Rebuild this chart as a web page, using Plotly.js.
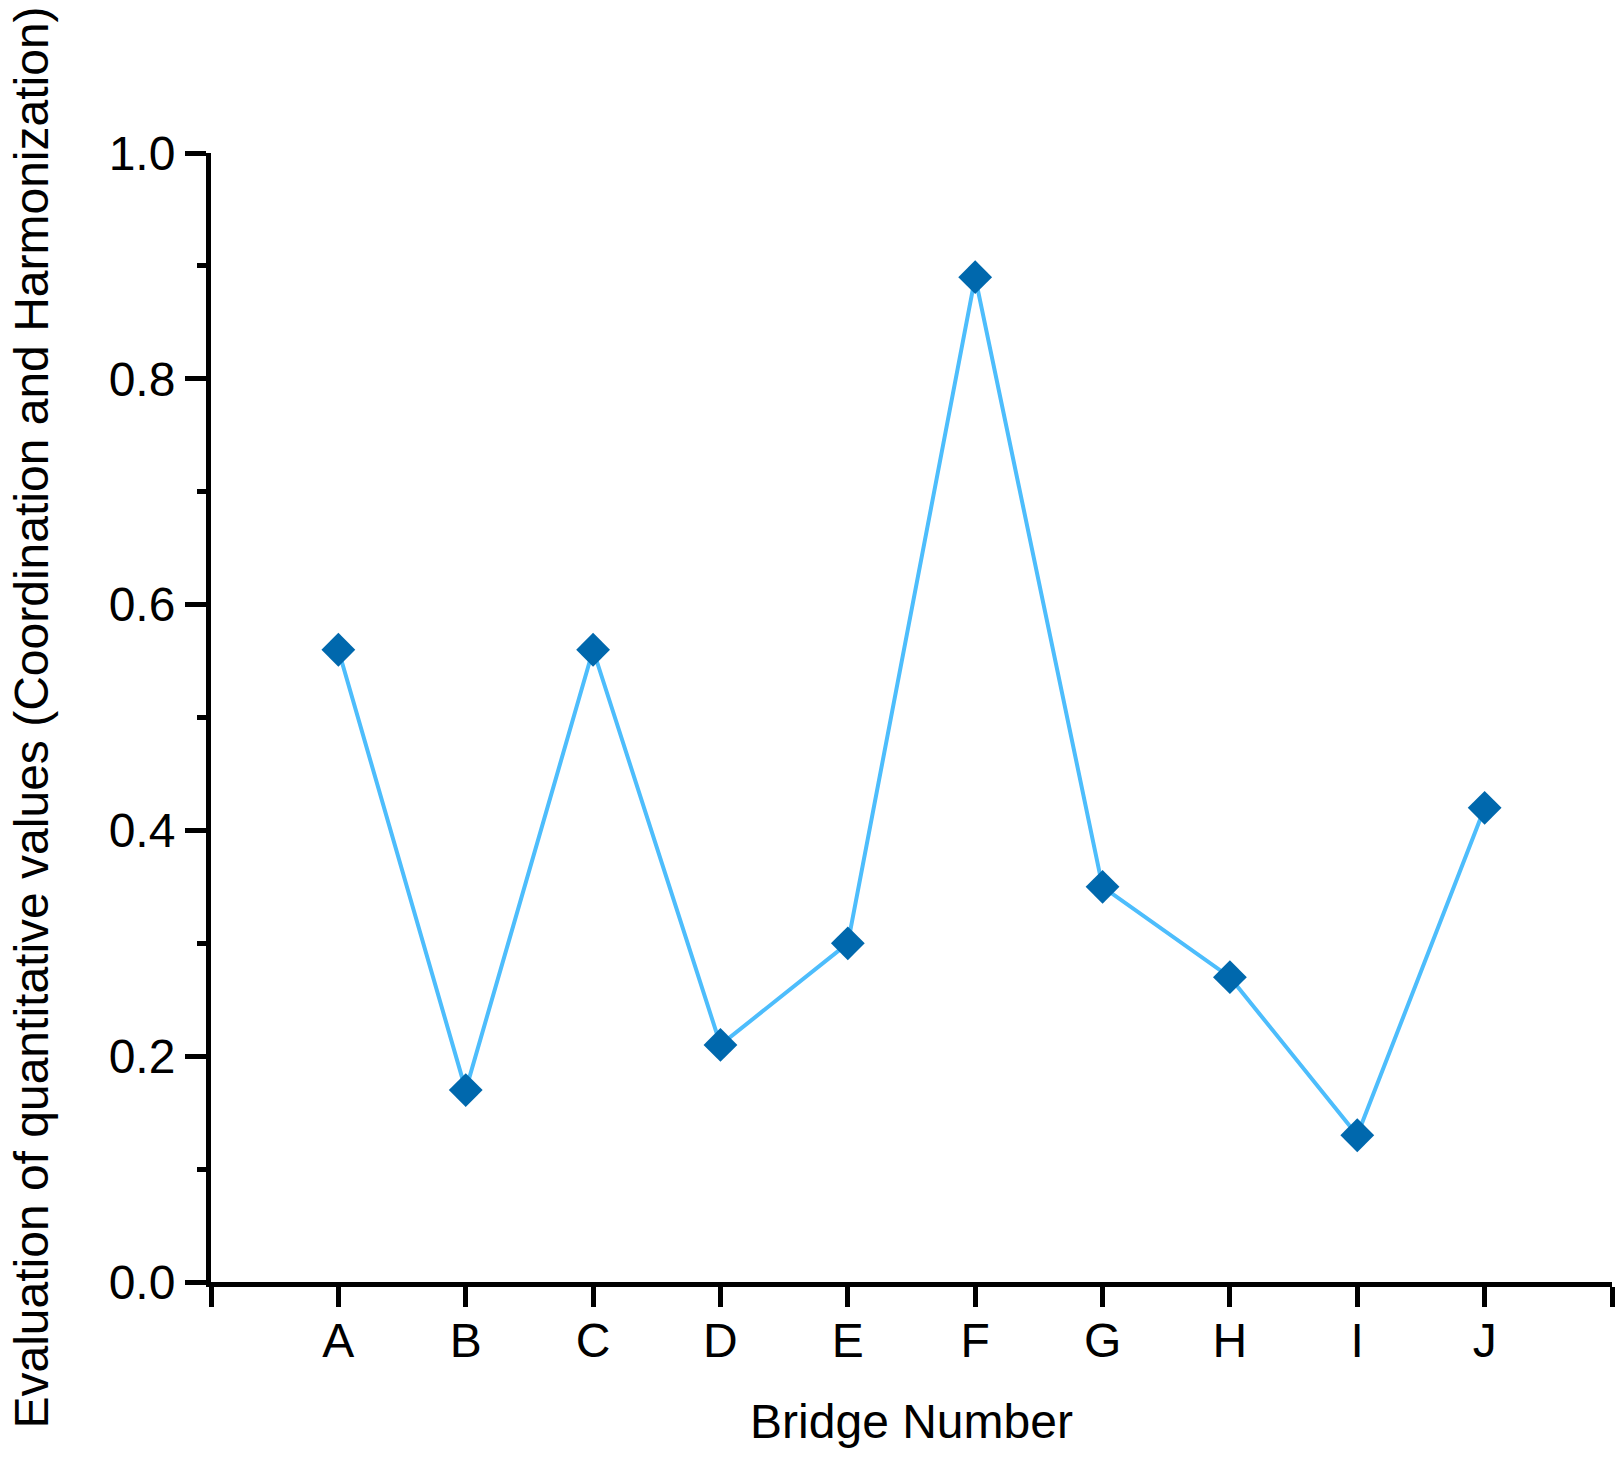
<!DOCTYPE html>
<html>
<head>
<meta charset="utf-8">
<script src="https://cdn.plot.ly/plotly-3.0.1.min.js"></script>
<style>html,body{margin:0;padding:0;background:#fff;}#chart{width:1623px;height:1460px;}</style>
</head>
<body>
<div id="chart"></div>
<script>
const categories = ['A','B','C','D','E','F','G','H','I','J'];
const values = [0.56, 0.17, 0.56, 0.21, 0.30, 0.89, 0.35, 0.27, 0.13, 0.42];
const xTitle = 'Bridge Number';
const yTitle = 'Evaluation of quantitative values (Coordination and Harmonization)';

const xPos = categories.map((c, i) => i + 1);
const tickVals = [0].concat(xPos, [categories.length + 1]);
const tickText = [''].concat(categories, ['']);

const font = 'Liberation Sans, Arial, sans-serif';
const fs = 48;

const trace = {
  x: xPos,
  y: values,
  type: 'scatter',
  mode: 'lines+markers',
  line: {color: '#4DBDFC', width: 4},
  marker: {symbol: 'diamond', size: 26, color: '#0068AD'},
  hoverinfo: 'x+y'
};

const layout = {
  width: 1623,
  height: 1460,
  margin: {l: 211, r: 11, t: 153, b: 178},
  paper_bgcolor: '#fff',
  plot_bgcolor: '#fff',
  showlegend: false,
  font: {family: font, color: '#000', size: fs},
  xaxis: {
    range: [0, categories.length + 1],
    tickmode: 'array',
    tickvals: tickVals,
    ticktext: tickText,
    showgrid: false,
    zeroline: false,
    showline: true,
    linecolor: '#000',
    linewidth: 5,
    ticks: 'outside',
    ticklen: 20,
    tickwidth: 5,
    tickcolor: '#000',
    ticklabelstandoff: -8,
    tickfont: {family: font, size: fs, color: '#000'},
    title: {text: xTitle, font: {family: font, size: fs, color: '#000'}, standoff: 40},
    automargin: false
  },
  yaxis: {
    range: [0, 1],
    dtick: 0.2,
    tick0: 0,
    tickformat: '.1f',
    showgrid: false,
    zeroline: false,
    showline: true,
    linecolor: '#000',
    linewidth: 5,
    ticks: 'outside',
    ticklen: 21,
    tickwidth: 5,
    tickcolor: '#000',
    ticklabelstandoff: 0,
    minor: {dtick: 0.1, ticks: 'outside', ticklen: 9, tickwidth: 5, tickcolor: '#000', showgrid: false},
    tickfont: {family: font, size: fs, color: '#000'},
    title: {text: yTitle, font: {family: font, size: fs, color: '#000'}, standoff: 46},
    automargin: false
  }
};

Plotly.newPlot('chart', [trace], layout, {displayModeBar: false, staticPlot: true});
</script>
</body>
</html>
